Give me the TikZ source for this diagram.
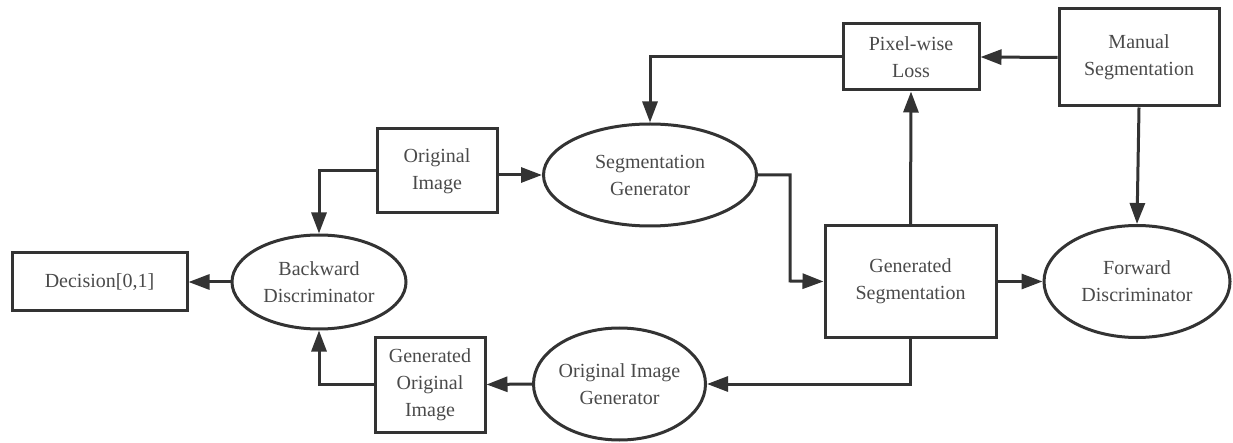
\documentclass[tikz,border=0pt]{standalone}
\usepackage{fontspec}
\setmainfont{Liberation Serif}
\usetikzlibrary{arrows.meta,shapes.geometric}
\definecolor{linegray}{HTML}{333333}
\definecolor{textgray}{HTML}{4A4A4A}
\tikzset{
  x=1pt, y=-1pt,
  base/.style={draw=linegray, line width=3pt, text=textgray, align=center,
    font=\fontsize{20}{27}\selectfont, inner sep=0pt},
  boxnode/.style={base, rectangle},
  ovalnode/.style={base, ellipse},
  link/.style={draw=linegray, line width=3pt,
    -{Triangle[length=21pt,width=15pt]}},
}
\begin{document}
\begin{tikzpicture}
\useasboundingbox (0,0) rectangle (1233,443);
% boxes
\node[boxnode, minimum width=175pt, minimum height=58pt] (dec) at (99.5,282) {Decision[0,1]};
\node[boxnode, minimum width=120pt, minimum height=84pt] (oi) at (437,171) {Original\\Image};
\node[boxnode, minimum width=136pt, minimum height=66pt] (pl) at (911,57) {Pixel-wise\\Loss};
\node[boxnode, minimum width=160pt, minimum height=97pt] (ms) at (1139,57.5) {Manual\\Segmentation};
\node[boxnode, minimum width=171pt, minimum height=111pt] (gs) at (910.5,281.5) {Generated\\Segmentation};
\node[boxnode, minimum width=110pt, minimum height=95pt] (goi) at (430,384.5) {Generated\\Original\\Image};
% ellipses
\node[ovalnode, minimum width=174pt, minimum height=94pt] (bd) at (319,282) {Backward\\Discriminator};
\node[ovalnode, minimum width=213pt, minimum height=102pt] (sg) at (650,175) {Segmentation\\Generator};
\node[ovalnode, minimum width=186pt, minimum height=112pt] (fd) at (1137,281.5) {Forward\\Discriminator};
\node[ovalnode, minimum width=171pt, minimum height=112pt] (oig) at (619.5,384) {Original Image\\Generator};
% connectors
\draw[link] (bd.west) -- (dec.east);
\draw[link] (oi.west) -| (bd.north);
\draw[link] (oi.east |- sg.west) -- (sg.west);
\draw[link] (sg.east) -| (790,281) -- (gs.west);
\draw[link] (gs.north) -- (pl.south);
\draw[link] (ms.west) -- (pl.east);
\draw[link] (pl.west) -| (sg.north);
\draw[link] (ms.south) -- (fd.north);
\draw[link] (gs.east) -- (fd.west);
\draw[link] (gs.south) |- (oig.east);
\draw[link] (oig.west) -- (goi.east);
\draw[link] (goi.west) -| (bd.south);
\end{tikzpicture}
\end{document}
